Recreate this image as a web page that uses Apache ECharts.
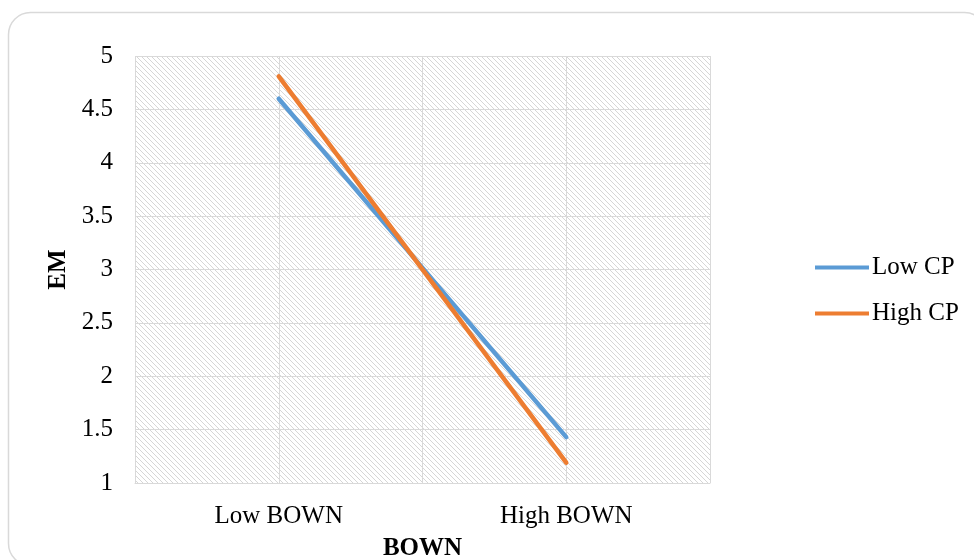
<!DOCTYPE html>
<html>
<head>
<meta charset="utf-8">
<script src="https://cdn.jsdelivr.net/npm/echarts@6/dist/echarts.min.js"></script>
<style>
  html, body { margin: 0; padding: 0; background: #fff; overflow: hidden; }
  #chart { width: 974px; height: 560px; }
</style>
</head>
<body>
<div id="chart"></div>
<script>
// Interaction plot: EM by BOWN level, split by CP level
const categories = ['Low BOWN', 'High BOWN'];
const lowCP = [4.60, 1.43];
const highCP = [4.81, 1.19];
const seriesNames = ['Low CP', 'High CP'];
const yTicks = { min: 1, max: 5, step: 0.5 };

const FONT = '"Liberation Serif", "Times New Roman", serif';
const GRID_COLOR = '#d9d9d9';

// Diagonal hatch tile used as the plot-area fill
function hatchTile(size, color) {
  const c = document.createElement('canvas');
  c.width = size; c.height = size;
  const ctx = c.getContext('2d');
  ctx.fillStyle = '#ffffff';
  ctx.fillRect(0, 0, size, size);
  ctx.fillStyle = color;
  for (let i = 0; i < size; i++) ctx.fillRect(i, i, 1, 1);
  return c;
}

const chart = echarts.init(document.getElementById('chart'), null, { renderer: 'canvas' });

chart.setOption({
  animation: false,
  backgroundColor: '#ffffff',
  graphic: [{
    // rounded chart-area frame, running past the right and bottom edges
    type: 'rect',
    shape: { x: 8.5, y: 12.5, width: 978, height: 553, r: 22 },
    style: { fill: 'none', stroke: GRID_COLOR, lineWidth: 1.5 },
    silent: true,
    z: -10
  }],
  grid: {
    left: 135, right: 264, top: 56, bottom: 77,
    outerBoundsMode: 'none',
    containLabel: false,
    show: true,
    backgroundColor: { image: hatchTile(5, '#d6d6d6'), repeat: 'repeat' },
    borderWidth: 0
  },
  legend: {
    orient: 'vertical',
    left: 810,
    top: 250,
    itemWidth: 54,
    itemHeight: 4,
    itemGap: 21,
    icon: 'rect',
    textStyle: { fontFamily: FONT, fontSize: 25, color: '#000', lineHeight: 25, padding: [0, 0, 0, -2] },
    data: seriesNames
  },
  xAxis: [{
    type: 'category',
    data: categories,
    boundaryGap: true,
    name: 'BOWN',
    nameLocation: 'middle',
    nameGap: 53,
    nameTextStyle: { fontFamily: FONT, fontSize: 25, fontWeight: 'bold', color: '#000' },
    axisLine: { show: true, lineStyle: { color: GRID_COLOR, width: 1 } },
    axisTick: { show: false },
    axisLabel: { fontFamily: FONT, fontSize: 25, color: '#000', margin: 21 },
    splitLine: { show: false }
  }, {
    // helper axis: gridlines at category centres and boundaries
    type: 'value',
    min: 0, max: 4, interval: 1,
    position: 'bottom',
    show: true,
    axisLine: { show: false },
    axisTick: { show: false },
    axisLabel: { show: false },
    splitLine: { show: true, lineStyle: { color: GRID_COLOR, width: 1 } }
  }],
  yAxis: {
    type: 'value',
    min: yTicks.min, max: yTicks.max, interval: yTicks.step,
    name: 'EM',
    nameLocation: 'middle',
    nameGap: 62,
    nameTextStyle: { fontFamily: FONT, fontSize: 25, fontWeight: 'bold', color: '#000' },
    axisLine: { show: false },
    axisTick: { show: false },
    axisLabel: { fontFamily: FONT, fontSize: 25, color: '#000', margin: 22 },
    splitLine: { show: true, lineStyle: { color: GRID_COLOR, width: 1 } }
  },
  series: [{
    name: seriesNames[0], type: 'line', xAxisIndex: 0, data: lowCP, symbol: 'none',
    itemStyle: { color: '#5b9bd5' },
    lineStyle: { color: '#5b9bd5', width: 4.5, cap: 'round' }, z: 3
  }, {
    name: seriesNames[1], type: 'line', xAxisIndex: 0, data: highCP, symbol: 'none',
    itemStyle: { color: '#ed7d31' },
    lineStyle: { color: '#ed7d31', width: 4.5, cap: 'round' }, z: 4
  }]
});
</script>
</body>
</html>
